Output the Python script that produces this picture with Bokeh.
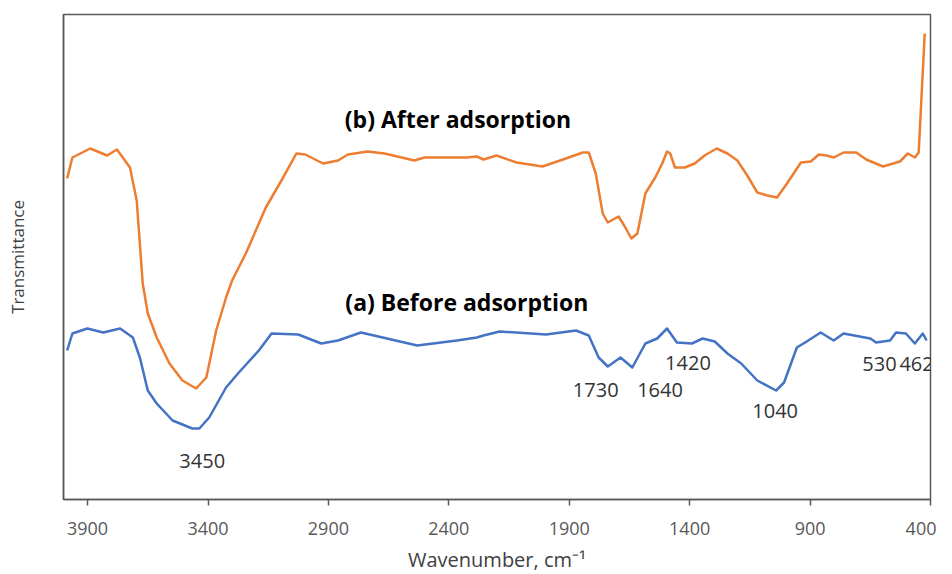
from bokeh.plotting import figure
from bokeh.models import Range1d, FixedTicker, Label
from bokeh.embed import file_html
from bokeh.resources import INLINE

# Wavenumber (cm-1) and transmittance (arbitrary units)
wn_after = [3985, 3963, 3889, 3819, 3778, 3724, 3696, 3671, 3650, 3613, 3560, 3506, 3449, 3407,
            3366, 3325, 3300, 3243, 3160, 3095, 3033, 2996, 2922, 2860, 2819, 2737, 2667, 2543,
            2502, 2325, 2284, 2256, 2202, 2119, 2011, 1914, 1844, 1819, 1790, 1761, 1740, 1695,
            1667, 1642, 1617, 1584, 1543, 1514, 1494, 1481, 1461, 1420, 1379, 1338, 1288, 1243,
            1202, 1161, 1119, 1078, 1037, 996, 938, 897, 864, 831, 802, 761, 708, 667, 597, 527,
            494, 465, 449, 424]
t_after = [321, 342, 351, 344, 350, 332, 299, 216, 186, 162, 136, 119, 111, 122,
           169, 202, 219, 246, 292, 319, 346, 345, 336, 339, 345, 348, 346, 339,
           342, 342, 343, 340, 344, 337, 333, 341, 347, 347, 326, 286, 277, 283,
           272, 261, 266, 306, 322, 336, 348, 346, 332, 332, 336, 344, 351, 346,
           339, 324, 307, 304, 302, 316, 337, 338, 345, 344, 342, 347, 347, 340, 333, 338,
           346, 342, 347, 466]

wn_before = [3985, 3963, 3901, 3835, 3765, 3712, 3683, 3650, 3613, 3547, 3465, 3436, 3395, 3325,
             3272, 3189, 3136, 3025, 2930, 2860, 2765, 2531, 2366, 2284, 2256, 2189, 1996, 1872,
             1819, 1778, 1740, 1687, 1638, 1584, 1535, 1494, 1453, 1391, 1346, 1296, 1243, 1186,
             1119, 1041, 1008, 955, 914, 856, 802, 761, 650, 626, 568, 543, 502, 465, 432, 416]
t_before = [149, 166, 171, 167, 171, 162, 142, 109, 96, 79, 71, 71, 82, 112,
            127, 149, 166, 165, 156, 159, 167, 154, 159, 162, 164, 168, 165, 169,
            164, 142, 133, 142, 132, 156, 161, 171, 157, 156, 161, 158, 146, 136,
            119, 109, 117, 152, 158, 167, 159, 166, 161, 157, 159, 167, 166, 156, 166, 159]

x_ticks = [3900, 3400, 2900, 2400, 1900, 1400, 900, 400]

# Text annotations: (text, wavenumber, transmittance)
series_labels = [("(b) After adsorption", 2362, 381), ("(a) Before adsorption", 2325, 198)]
peak_labels = [("3450", 3424, 39), ("1730", 1790, 110), ("1640", 1523, 110), ("1420", 1407, 137),
               ("1040", 1045, 89), ("530", 612, 136), ("462", 458, 136)]

FONT = "Open Sans"

p = figure(width=936, height=578, output_backend="svg", toolbar_location=None,
           x_range=Range1d(4000, 400), y_range=Range1d(0, 485),
           min_border_left=63, min_border_right=6, min_border_top=14, min_border_bottom=79)

p.line(wn_after, t_after, line_color="#ED7D31", line_width=2.5, line_join="round")
p.line(wn_before, t_before, line_color="#4472C4", line_width=2.5, line_join="round")

p.grid.visible = False
p.outline_line_color = "#595959"
p.outline_line_width = 1.5

xa = p.xaxis[0]
xa.ticker = FixedTicker(ticks=x_ticks)
xa.axis_label = "Wavenumber, cm\u207b\u00b9"
xa.axis_label_text_font = FONT
xa.axis_label_text_font_style = "normal"
xa.axis_label_text_font_size = "20px"
xa.axis_label_text_color = "#404040"
xa.axis_label_standoff = 8
xa.major_label_text_font = FONT
xa.major_label_text_font_size = "18px"
xa.major_label_text_color = "#595959"
xa.major_label_standoff = 16
xa.axis_line_color = "#595959"
xa.axis_line_width = 1.5
xa.major_tick_line_color = "#595959"
xa.major_tick_line_width = 1.5
xa.major_tick_out = 6
xa.major_tick_in = 0
xa.minor_tick_line_color = None

ya = p.yaxis[0]
ya.ticker = FixedTicker(ticks=[])
ya.axis_label = "Transmittance"
ya.axis_label_text_font = FONT
ya.axis_label_text_font_style = "normal"
ya.axis_label_text_font_size = "17px"
ya.axis_label_text_color = "#404040"
ya.axis_label_standoff = 35
ya.major_tick_line_color = None
ya.minor_tick_line_color = None
ya.axis_line_color = "#595959"
ya.axis_line_width = 1.5

for txt, x, y in series_labels:
    p.add_layout(Label(x=x, y=y, text=txt, text_align="center", text_baseline="middle",
                       text_font=FONT, text_font_style="bold", text_font_size="23px",
                       text_color="#000000"))
for txt, x, y in peak_labels:
    p.add_layout(Label(x=x, y=y, text=txt, text_align="center", text_baseline="middle",
                       text_font=FONT, text_font_size="20px", text_color="#333333"))

open("out.html", "w").write(file_html(p, INLINE))
